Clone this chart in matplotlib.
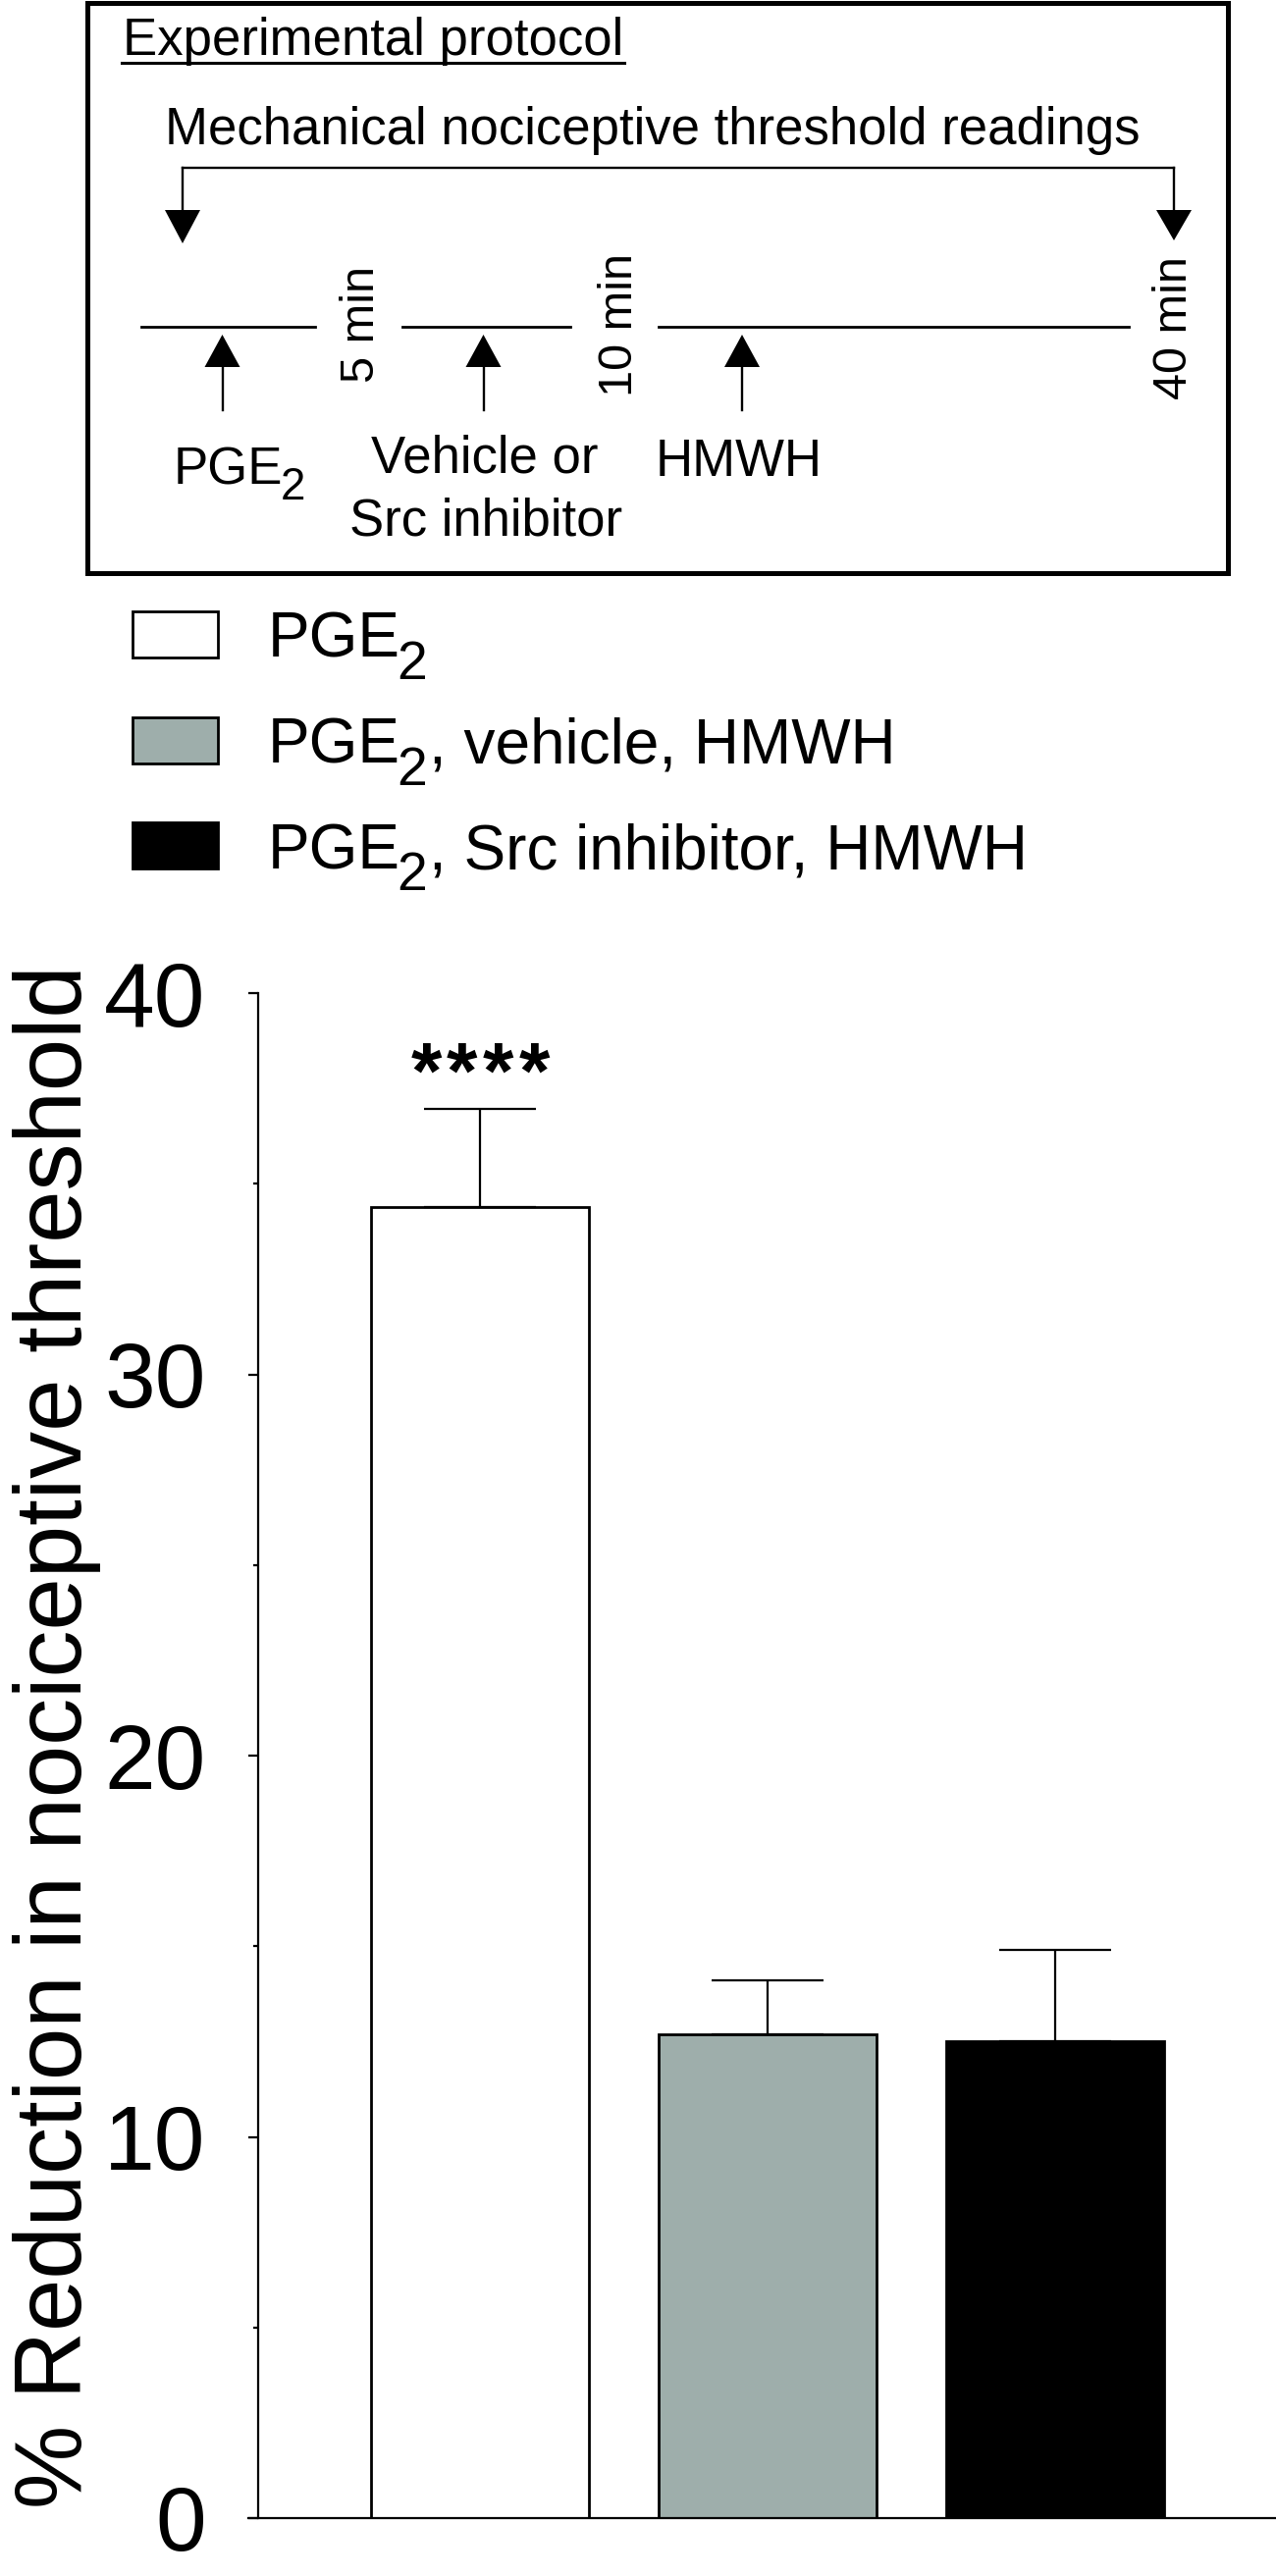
import matplotlib
matplotlib.use('Agg')
import matplotlib.pyplot as plt
from matplotlib.patches import Rectangle, Polygon
from matplotlib.lines import Line2D
import numpy as np

plt.rcParams['font.family'] = ['Liberation Sans', 'DejaVu Sans']

# ---------------- data ----------------
categories = ['PGE2', 'PGE2, vehicle, HMWH', 'PGE2, Src inhibitor, HMWH']
means = [34.4, 12.7, 12.5]
sems = [2.55, 1.4, 2.4]
bar_colors = ['white', '#9EAEAB', 'black']
significance = ['****', '', '']
yticks_major = [0, 10, 20, 30, 40]
yticks_minor = [5, 15, 25, 35]
ylabel = '% Reduction in nociceptive threshold'

protocol_title = 'Experimental protocol'
readings_label = 'Mechanical nociceptive threshold readings'
timepoints = ['5 min', '10 min', '40 min']
treatments = ['PGE2', 'Vehicle or', 'Src inhibitor', 'HMWH']

# ---------------- figure ----------------
W, H = 1300, 2625
fig = plt.figure(figsize=(W / 100, H / 100), dpi=100)
ov = fig.add_axes([0, 0, 1, 1])
ov.set_xlim(0, W)
ov.set_ylim(H, 0)
ov.axis('off')
renderer = fig.canvas.get_renderer()


def rich(x, y, text, fs, sub_fs, sub_dy, gap_before_sub, gap_after_sub):
    """Draw text where 'PGE2' gets a subscript 2 (pixel coords, baseline)."""
    parts = []
    rest = text
    while 'PGE2' in rest:
        i = rest.index('PGE2')
        if rest[:i]:
            parts.append((rest[:i], False))
        parts.append(('PGE', False))
        parts.append(('2', True))
        rest = rest[i + 4:]
    if rest:
        parts.append((rest, False))
    cx = x
    for k, (txt, sub) in enumerate(parts):
        t = ov.text(cx, y + (sub_dy if sub else 0), txt,
                    fontsize=sub_fs if sub else fs, ha='left', va='baseline')
        bb = t.get_window_extent(renderer)
        nxt_sub = k + 1 < len(parts) and parts[k + 1][1]
        cx += bb.width + (gap_before_sub if nxt_sub else gap_after_sub)


# ---- protocol box ----
ov.add_patch(Rectangle((89, 3), 1251 - 89, 584 - 3, fill=False,
                       lw=3.6, edgecolor='black'))
t = ov.text(125, 56, protocol_title, fontsize=38, ha='left', va='baseline')
bb = t.get_window_extent(renderer)
ov.add_line(Line2D([124, 124 + bb.width + 2], [63.5, 63.5], lw=2.2, color='black'))

ov.text(665, 147, readings_label, fontsize=38, ha='center', va='baseline')

# bracket with down arrows
ov.add_line(Line2D([186, 1196], [171, 171], lw=1.7, color='black'))
for xa, tip in [(186, 248), (1196, 245)]:
    ov.add_line(Line2D([xa, xa], [171, 215], lw=1.7, color='black'))
    ov.add_patch(Polygon([[xa - 18, 214], [xa + 18, 214], [xa, tip]],
                         closed=True, color='black', lw=0))

# timeline segments
for x0, x1 in [(144, 321), (410, 581), (671, 1150)]:
    ov.add_line(Line2D([x0, x1], [333, 333], lw=2.0, color='black'))

# up arrows
for xa in [226.5, 492.5, 756]:
    ov.add_line(Line2D([xa, xa], [418, 372], lw=1.7, color='black'))
    ov.add_patch(Polygon([[xa - 18, 374], [xa + 18, 374], [xa, 341]],
                         closed=True, color='black', lw=0))

# time labels (rotated)
for lab, xb, yc in zip(timepoints, [381, 644, 1209], [331, 331, 334]):
    ov.text(xb, yc, lab, fontsize=35, rotation=90, rotation_mode='anchor',
            ha='center', va='baseline')

# treatment labels
rich(177, 494, treatments[0], 38, 33, 15, -3, 2)
ov.text(494, 481.5, treatments[1], fontsize=38, ha='center', va='baseline')
ov.text(495, 545, treatments[2], fontsize=38, ha='center', va='baseline')
ov.text(753, 485, treatments[3], fontsize=38, ha='center', va='baseline')

# ---- legend ----
for i, (lab, col) in enumerate(zip(categories, bar_colors)):
    top = 623 + i * 107.5
    ov.add_patch(Rectangle((135, top), 87, 47, facecolor=col,
                           edgecolor='black', lw=2.0))
    rich(273, top + 47, lab, 46, 40, 22, -4, 2)

# ---- bar chart ----
ax = fig.add_axes([263 / W, 59 / H, (W - 263) / W, (2566 - 1012) / H])
x = np.arange(len(means))
ax.bar(x, means, width=0.76, color=bar_colors, edgecolor='black',
       linewidth=2.0, zorder=2)
ax.errorbar(x, means, yerr=[np.zeros(len(sems)), sems], fmt='none',
            ecolor='black', elinewidth=1.6, capsize=41, capthick=1.6, zorder=3)
px_per_unit = 293.0
star_pitch = 36.7 / px_per_unit
for xi, m, s, sig in zip(x, means, sems, significance):
    n = len(sig)
    for k, ch in enumerate(sig):
        ax.text(xi + (k - (n - 1) / 2) * star_pitch, m + s + 0.3, ch,
                ha='center', va='baseline', fontsize=58, fontweight='bold')

xl0 = -(489 - 263) / px_per_unit
xl1 = (W - 489) / px_per_unit
ax.set_xlim(xl0, xl1)
ax.set_ylim(0, 40)
ax.set_yticks(yticks_major)
ax.set_yticks(yticks_minor, minor=True)
ax.set_xticks([])
ax.spines['top'].set_visible(False)
ax.spines['right'].set_visible(False)
for sp in ['left', 'bottom']:
    ax.spines[sp].set_linewidth(1.6)
ax.spines['bottom'].set_bounds(xl0 - 10 / px_per_unit, xl1)
ax.tick_params(axis='y', which='major', length=7.5, width=1.6,
               labelsize=67, pad=31)
ax.tick_params(axis='y', which='minor', length=3.8, width=1.6)
ax.patch.set_visible(False)

ov.text(83, 1770, ylabel, fontsize=69, rotation=90, rotation_mode='anchor',
        ha='center', va='baseline')

fig.savefig('out.png', dpi=100)
